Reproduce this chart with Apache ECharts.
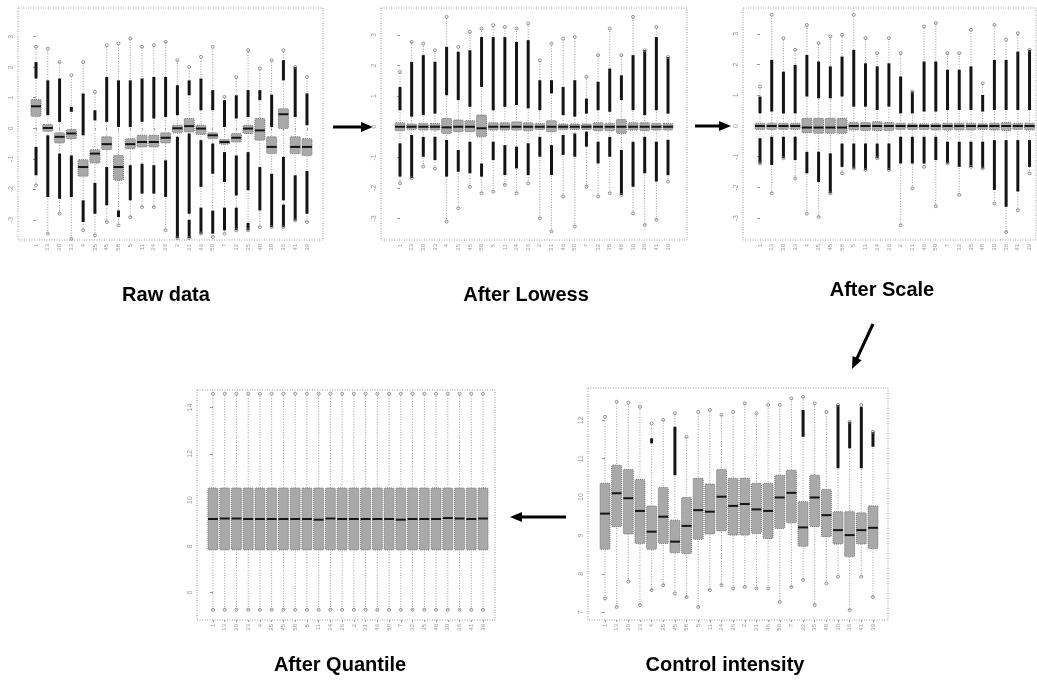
<!DOCTYPE html>
<html>
<head>
<meta charset="utf-8">
<script src="https://cdn.jsdelivr.net/npm/echarts@6/dist/echarts.min.js"></script>
<style>
  html, body { margin: 0; padding: 0; background: #fff; }
  #chart { width: 1037px; height: 683px; }
</style>
</head>
<body>
<div id="chart"></div>
<script>
// Array (sample) labels along the x axes
const arrayNames = ['1','13','20','33','4','25','45','58','5','11','24','26','2','21','46','50','7','32','35','48','30','36','41','39'];

// ---- Raw data: boxes [q1, median, q3], range [min, max], dense outlier runs ----
const rawBoxes = [[0.39,0.72,0.94],[-0.10,0.01,0.12],[-0.48,-0.28,-0.15],[-0.34,-0.17,-0.04],[-1.57,-1.27,-1.03],[-1.14,-0.83,-0.70],
  [-0.70,-0.52,-0.28],[-1.70,-1.27,-0.89],[-0.67,-0.52,-0.34],[-0.61,-0.45,-0.23],[-0.61,-0.45,-0.23],[-0.48,-0.31,-0.15],
  [-0.15,0.00,0.10],[-0.12,0.07,0.32],[-0.20,-0.01,0.10],[-0.34,-0.23,-0.15],[-0.52,-0.45,-0.37],[-0.45,-0.31,-0.17],
  [-0.17,-0.01,0.10],[-0.39,-0.07,0.32],[-0.83,-0.61,-0.28],[-0.01,0.46,0.64],[-0.83,-0.61,-0.28],[-0.89,-0.61,-0.34]];
const rawRange = [[-1.87,2.67],[-3.45,2.61],[-2.80,2.17],[-3.62,1.74],[-3.34,2.17],[-3.51,1.19],[-3.07,2.72],[-3.18,2.78],
  [-2.91,2.94],[-2.58,2.67],[-2.58,2.72],[-3.34,2.83],[-3.60,2.23],[-3.60,2.01],[-3.45,2.34],[-3.56,2.67],[-3.45,1.03],
  [-3.34,1.68],[-3.34,2.56],[-3.24,1.96],[-3.24,2.23],[-3.24,2.56],[-3.02,2.01],[-3.07,1.68]];
const rawUpper = [[[1.63,2.17]],[[0.43,1.57]],[[0.21,1.63]],[[0.54,0.70]],[[-0.23,1.14]],[[0.26,0.59]],[[0.21,1.68]],[[0.04,1.57]],
  [[0.04,1.57]],[[0.21,1.63]],[[0.32,1.68]],[[0.37,1.68]],[[0.43,1.41]],[[1.08,1.57]],[[0.59,1.63]],[[0.59,1.25]],[[0.04,0.92]],
  [[0.32,1.08]],[[0.37,1.25]],[[0.92,1.25]],[[0.04,1.10]],[[1.57,2.23]],[[0.37,2.01]],[[0.10,1.14]]];
const rawLower = [[[-1.54,-0.61]],[[-2.25,-0.23]],[[-2.31,-0.83]],[[-2.25,-0.89]],[[-3.07,-2.36]],[[-2.80,-1.79]],[[-2.52,-1.27]],[[-2.91,-2.69]],
  [[-2.36,-1.21]],[[-2.14,-1.16]],[[-2.14,-1.21]],[[-2.25,-1.05]],[[-3.60,-0.28]],[[-2.80,-0.17],[-3.60,-3.00]],[[-1.92,-0.39],[-3.45,-2.60]],
  [[-1.49,-0.50],[-3.45,-2.70]],[[-1.76,-0.78],[-3.34,-2.60]],[[-2.20,-0.89],[-3.34,-2.60]],[[-2.03,-0.78],[-3.34,-3.10]],[[-2.69,-1.27]],
  [[-3.24,-1.49]],[[-2.36,-0.94],[-3.24,-2.50]],[[-3.02,-1.54]],[[-2.80,-1.40]]];

// ---- After Lowess ----
const lowessBoxes = [[-0.13,0,0.13],[-0.09,0,0.09],[-0.11,0,0.11],[-0.11,0,0.11],[-0.22,-0.02,0.27],[-0.16,0,0.22],[-0.16,0,0.20],[-0.33,-0.05,0.38],
  [-0.11,0,0.13],[-0.11,0,0.13],[-0.11,0,0.16],[-0.13,0,0.13],[-0.09,0,0.11],[-0.16,0,0.20],[-0.09,0,0.09],[-0.09,0,0.09],
  [-0.09,0,0.09],[-0.13,0,0.13],[-0.13,0,0.11],[-0.22,0,0.24],[-0.11,0,0.13],[-0.13,0,0.13],[-0.11,0,0.11],[-0.11,0,0.11]];
const lowessRange = [[-1.85,1.79],[-1.68,2.77],[-1.30,2.72],[-1.36,2.50],[-3.10,3.59],[-2.66,2.61],[-1.96,3.10],[-2.17,3.21],
  [-2.12,3.32],[-1.90,3.26],[-2.17,3.21],[-1.85,3.37],[-2.99,2.17],[-3.42,2.72],[-2.28,2.88],[-3.26,2.93],[-1.96,1.63],
  [-2.28,2.34],[-2.17,3.21],[-2.23,2.34],[-2.83,3.59],[-3.21,2.50],[-3.04,3.26],[-1.79,2.28]];
const lowessUpper = [[[0.54,1.30]],[[0.33,2.12]],[[0.38,2.34]],[[0.43,2.12]],[[1.03,2.61]],[[0.87,2.45]],[[0.65,2.50]],[[1.30,2.93]],
  [[0.54,2.93]],[[0.65,2.93]],[[0.71,2.77]],[[0.60,2.83]],[[0.54,1.52]],[[1.09,1.52]],[[0.38,1.30]],[[0.33,1.52]],[[0.43,0.92]],
  [[0.54,1.47]],[[0.49,1.90]],[[0.87,1.68]],[[0.54,2.34]],[[0.38,2.50]],[[0.54,2.93]],[[0.43,2.28]]];
const lowessLower = [[[-1.63,-0.54]],[[-1.68,-0.27]],[[-0.98,-0.33]],[[-1.09,-0.33]],[[-1.63,-0.43]],[[-1.47,-0.76]],[[-1.52,-0.49]],[[-1.63,-1.20]],
  [[-1.09,-0.49]],[[-1.58,-0.60]],[[-1.36,-0.65]],[[-1.58,-0.54]],[[-0.98,-0.33]],[[-1.58,-0.60]],[[-0.92,-0.27]],[[-0.98,-0.22]],
  [[-0.65,-0.16]],[[-1.20,-0.49]],[[-0.98,-0.33]],[[-2.23,-0.76]],[[-1.96,-0.49]],[[-1.52,-0.33]],[[-1.79,-0.49]],[[-1.58,-0.43]]];

// ---- After Scale ----
const scaleBoxes = [[-0.11,0,0.09],[-0.11,0,0.09],[-0.11,0,0.09],[-0.11,0,0.09],[-0.22,-0.05,0.25],[-0.24,-0.05,0.25],[-0.24,-0.05,0.25],[-0.24,-0.05,0.25],
  [-0.13,0,0.11],[-0.15,0,0.11],[-0.15,0,0.14],[-0.15,0,0.11],[-0.11,0,0.09],[-0.11,0,0.07],[-0.11,0,0.07],[-0.13,0,0.07],
  [-0.13,0,0.09],[-0.13,0,0.09],[-0.13,0,0.09],[-0.11,0,0.07],[-0.13,0,0.09],[-0.15,0,0.11],[-0.11,0,0.09],[-0.13,0,0.09]];
const scaleRange = [[-1.22,1.28],[-2.19,3.62],[-1.05,2.86],[-1.71,2.48],[-2.85,3.29],[-2.96,2.70],[-2.19,2.92],[-1.54,2.97],
  [-1.38,3.62],[-1.43,2.86],[-1.05,2.37],[-1.43,2.86],[-3.23,2.37],[-2.03,1.12],[-1.33,3.24],[-2.61,3.35],[-1.22,2.37],
  [-2.24,2.37],[-1.33,3.13],[-1.38,1.39],[-2.52,3.29],[-3.45,2.81],[-2.74,3.02],[-1.54,2.48]];
const scaleUpper = [[[0.41,0.96]],[[0.47,2.15]],[[0.41,1.77]],[[0.41,1.99]],[[0.96,2.31]],[[0.90,2.10]],[[0.90,1.94]],[[0.96,2.26]],
  [[0.63,2.48]],[[0.63,2.04]],[[0.52,1.94]],[[0.63,2.04]],[[0.41,1.61]],[[0.41,1.12]],[[0.47,2.10]],[[0.47,2.10]],[[0.52,1.83]],
  [[0.52,1.83]],[[0.52,1.94]],[[0.47,1.01]],[[0.52,2.15]],[[0.52,2.15]],[[0.52,2.42]],[[0.52,2.48]]];
const scaleLower = [[[-1.22,-0.40]],[[-1.27,-0.35]],[[-1.05,-0.35]],[[-1.11,-0.35]],[[-1.54,-0.84]],[[-1.82,-0.84]],[[-2.19,-0.89]],[[-1.33,-0.57]],
  [[-1.38,-0.57]],[[-1.43,-0.57]],[[-1.05,-0.57]],[[-1.43,-0.57]],[[-1.22,-0.35]],[[-1.22,-0.35]],[[-1.22,-0.35]],[[-1.11,-0.35]],
  [[-1.22,-0.51]],[[-1.33,-0.51]],[[-1.33,-0.51]],[[-1.38,-0.51]],[[-2.08,-0.46]],[[-2.63,-0.46]],[[-2.13,-0.46]],[[-1.33,-0.46]]];

// ---- After Quantile ----
const quantileBoxes = [[7.84,9.18,10.52],[7.84,9.20,10.52],[7.84,9.20,10.52],[7.84,9.18,10.52],[7.84,9.18,10.52],[7.84,9.18,10.52],
  [7.84,9.18,10.52],[7.84,9.18,10.52],[7.84,9.18,10.52],[7.84,9.15,10.52],[7.84,9.20,10.52],[7.84,9.18,10.52],
  [7.84,9.18,10.52],[7.84,9.18,10.52],[7.84,9.18,10.52],[7.84,9.18,10.52],[7.84,9.15,10.52],[7.84,9.18,10.52],
  [7.84,9.18,10.52],[7.84,9.18,10.52],[7.84,9.22,10.52],[7.84,9.20,10.52],[7.84,9.18,10.52],[7.84,9.20,10.52]];
const quantileRange = [[5.25,14.6],[5.25,14.6],[5.25,14.6],[5.25,14.6],[5.25,14.6],[5.25,14.6],[5.25,14.6],[5.25,14.6],
  [5.25,14.6],[5.25,14.6],[5.25,14.6],[5.25,14.6],[5.25,14.6],[5.25,14.6],[5.25,14.6],[5.25,14.6],[5.25,14.6],[5.25,14.6],
  [5.25,14.6],[5.25,14.6],[5.25,14.6],[5.25,14.6],[5.25,14.6],[5.25,14.6]];

// ---- Control intensity ----
const controlBoxes = [[8.64,9.57,10.36],[9.23,10.10,10.83],[9.04,9.97,10.72],[8.79,9.64,10.46],[8.64,9.10,9.77],[8.79,9.49,10.25],
  [8.55,8.84,9.40],[8.53,9.25,9.99],[8.90,9.66,10.49],[9.04,9.62,10.34],[9.12,10.01,10.72],[9.01,9.77,10.49],
  [9.01,9.82,10.49],[9.05,9.68,10.36],[8.92,9.64,10.36],[9.18,9.99,10.57],[9.33,10.11,10.70],[8.72,9.21,9.88],
  [9.23,9.99,10.57],[8.97,9.53,10.20],[8.78,9.14,9.62],[8.45,9.01,9.62],[8.78,9.14,9.59],[8.66,9.20,9.77]];
const controlRange = [[7.36,12.09],[7.14,12.48],[7.80,12.46],[7.19,12.35],[7.58,11.92],[7.71,12.01],[7.49,12.18],[7.40,11.57],
  [7.14,12.22],[7.58,12.27],[7.71,12.14],[7.62,12.22],[7.66,12.44],[7.62,12.18],[7.62,12.40],[7.27,12.40],[7.66,12.57],
  [7.84,12.61],[7.19,12.44],[7.75,12.22],[7.93,12.40],[7.06,11.96],[7.93,12.40],[7.40,11.70]];
const controlUpper = [[],[],[],[],[[11.40,11.53]],[],[[10.57,11.83]],[],[],[],[],[],[],[],[],[],[],
  [[11.57,12.27]],[],[],[[10.75,12.40]],[[11.27,11.96]],[[10.75,12.35]],[[11.31,11.70]]];

// y tick values for each panel
const ratioTicks = [-3,-2,-1,0,1,2,3];
const quantileTicks = [6,8,10,12,14];
const controlTicks = [7,8,9,10,11,12];

const titles = ['Raw data','After Lowess','After Scale','After Quantile','Control intensity'];

// panel layout: frame rectangle and axis extents
const panels = [
  {frame:[18,8,305,232],  x:[-1.53,24.36], y:[-3.66,3.94], ticks:ratioTicks, boxes:rawBoxes, range:rawRange, upper:rawUpper, lower:rawLower, title:[166,295]},
  {frame:[381,8,306,232], x:[-1.63,24.63], y:[-3.70,3.88], ticks:ratioTicks, boxes:lowessBoxes, range:lowessRange, upper:lowessUpper, lower:lowessLower, title:[526,295]},
  {frame:[743,8,293,232], x:[-1.45,23.55], y:[-3.71,3.84], ticks:ratioTicks, boxes:scaleBoxes, range:scaleRange, upper:scaleUpper, lower:scaleLower, title:[882,290]},
  {frame:[197,390,298,230], x:[-1.36,24.02], y:[4.81,14.76], ticks:quantileTicks, boxes:quantileBoxes, range:quantileRange, upper:null, lower:null, title:[340,665]},
  {frame:[588,388,300,232], x:[-1.46,24.29], y:[6.80,12.84], ticks:controlTicks, boxes:controlBoxes, range:controlRange, upper:controlUpper, lower:null, title:[725,665]}
];

const idx = arrayNames.map((_, i) => i);

function makeRender(p) {
  return function (params, api) {
    const k = params.dataIndex;
    const i = api.value(0);
    const cx = api.coord([i, 0])[0];
    const Y = v => api.coord([i, v])[1];
    const w = api.size([0.85, 0])[0];
    const b = p.boxes[k], r = p.range[k];
    const kids = [];
    kids.push({type:'line', shape:{x1:cx, y1:Y(r[0]), x2:cx, y2:Y(r[1])},
      style:{stroke:'#9c9c9c', lineWidth:1, lineDash:[1,1.6]}});
    const runs = [].concat(p.upper ? p.upper[k] : [], p.lower ? p.lower[k] : []);
    runs.forEach(s => kids.push({type:'line', shape:{x1:cx, y1:Y(s[0]), x2:cx, y2:Y(s[1])},
      style:{stroke:'#141414', lineWidth:3}}));
    [r[0], r[1]].forEach(v => kids.push({type:'circle', shape:{cx:cx, cy:Y(v), r:1.5},
      style:{fill:'none', stroke:'#7a7a7a', lineWidth:0.8}}));
    const top = Y(b[2]), bot = Y(b[0]);
    kids.push({type:'rect', shape:{x:cx - w/2, y:top, width:w, height:bot - top, r:1},
      style:{fill:'#a9a9a9', stroke:'#6f6f6f', lineWidth:1, lineDash:[1,1]}});
    kids.push({type:'line', shape:{x1:cx - w/2, y1:Y(b[1]), x2:cx + w/2, y2:Y(b[1])},
      style:{stroke:'#151515', lineWidth:2}});
    return {type:'group', children:kids};
  };
}

const grid = [], xAxis = [], yAxis = [], series = [], graphic = [];
panels.forEach((p, n) => {
  const [l, t, w, h] = p.frame;
  grid.push({left:l, top:t, width:w, height:h});
  xAxis.push({type:'value', gridIndex:n, min:p.x[0], max:p.x[1],
    axisLine:{show:false}, splitLine:{show:false},
    axisTick:{customValues:idx, length:2, lineStyle:{color:'#999'}},
    axisLabel:{customValues:idx, formatter:v => arrayNames[v], rotate:90, fontSize:6, color:'#999', margin:4,
      fontFamily:'Liberation Sans'}});
  yAxis.push({type:'value', gridIndex:n, min:p.y[0], max:p.y[1],
    axisLine:{show:false}, splitLine:{show:false},
    axisTick:{customValues:p.ticks, length:3, lineStyle:{color:'#999'}},
    axisLabel:{customValues:p.ticks, rotate:90, fontSize:7, color:'#999', margin:3,
      fontFamily:'Liberation Sans'}});
  series.push({type:'custom', xAxisIndex:n, yAxisIndex:n, clip:false,
    data: idx.map(i => [i, p.range[i][0], p.range[i][1]]),
    encode:{x:0, y:[1,2]}, renderItem:makeRender(p), silent:true, animation:false});
  graphic.push({type:'rect', shape:{x:l, y:t, width:w, height:h}, silent:true, z:0,
    style:{fill:'none', stroke:'#9a9a9a', lineWidth:1, lineDash:[1,1.5]}});
  graphic.push({type:'text', x:p.title[0], y:p.title[1], silent:true,
    style:{text:titles[n], fill:'#000', font:'bold 20px "Liberation Sans", Arial, sans-serif',
      textAlign:'center', textVerticalAlign:'middle'}});
});

// arrows linking the processing steps
function arrow(x1, y1, x2, y2) {
  const dx = x2 - x1, dy = y2 - y1, L = Math.hypot(dx, dy);
  const ux = dx / L, uy = dy / L, hl = 12, hw = 5;
  const bx = x2 - ux * hl, by = y2 - uy * hl;
  return [
    {type:'line', silent:true, shape:{x1:x1, y1:y1, x2:bx + ux, y2:by + uy}, style:{stroke:'#000', lineWidth:3}},
    {type:'polygon', silent:true, shape:{points:[[x2, y2], [bx - uy*hw, by + ux*hw], [bx + uy*hw, by - ux*hw]]}, style:{fill:'#000'}}
  ];
}
graphic.push(...arrow(333, 127, 373, 127));
graphic.push(...arrow(695, 126, 731, 126));
graphic.push(...arrow(873, 324, 852, 369));
graphic.push(...arrow(566, 517, 510, 517));

const chart = echarts.init(document.getElementById('chart'), null, {renderer:'canvas'});
chart.setOption({animation:false, backgroundColor:'#fff', grid, xAxis, yAxis, series, graphic});
</script>
</body>
</html>
